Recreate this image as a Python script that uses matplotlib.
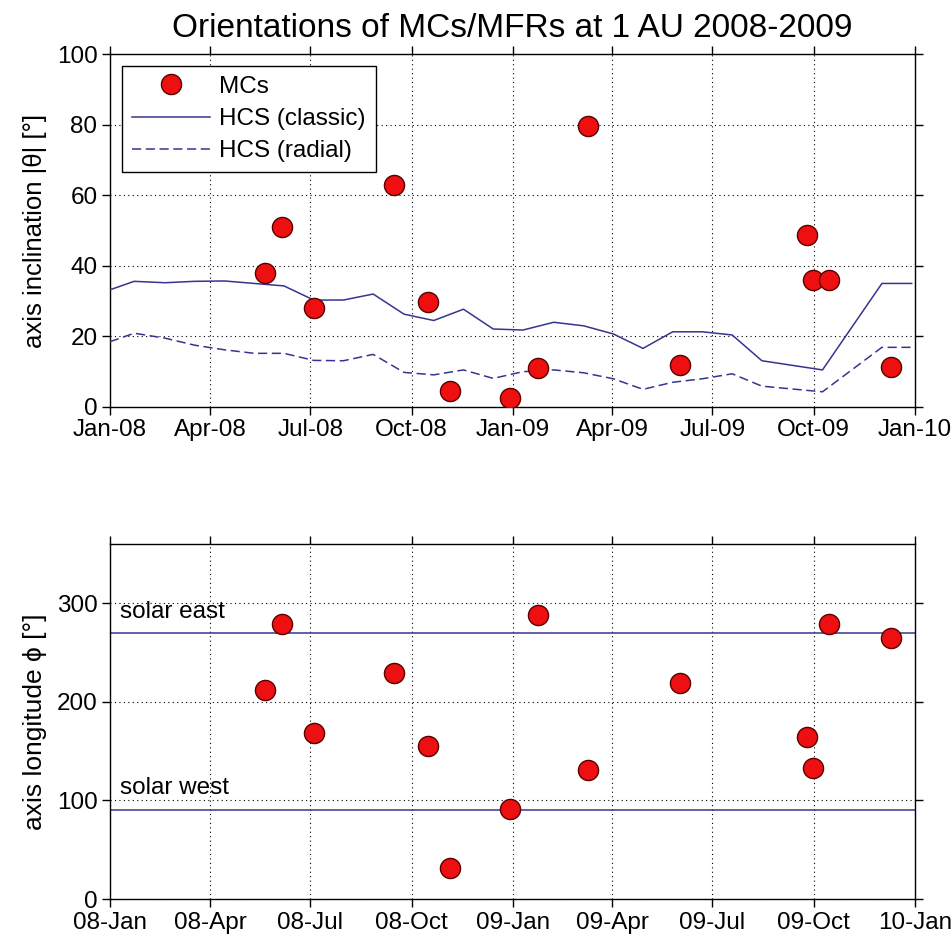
import datetime as dt
import matplotlib
matplotlib.use('Agg')
import matplotlib.pyplot as plt
import matplotlib.dates as mdates

# MC events: date, axis inclination |theta|, axis longitude phi
mc_dates = ['2008-05-21', '2008-06-05', '2008-07-04', '2008-09-15', '2008-10-16',
            '2008-11-05', '2008-12-29', '2009-01-24', '2009-03-10', '2009-06-02',
            '2009-09-25', '2009-09-30', '2009-10-15', '2009-12-10']
mc_theta = [38, 51, 28, 63, 29.7, 4.5, 2.5, 11, 79.5, 12, 48.7, 36, 36, 11.3]
mc_phi = [212, 279, 168, 229, 155, 31, 91, 288, 131, 219, 164, 133, 279, 265]

# HCS inclination per rotation
hcs_dates = ['2008-01-01', '2008-01-23', '2008-02-20', '2008-03-18', '2008-04-14',
             '2008-05-11', '2008-06-07', '2008-07-04', '2008-07-31', '2008-08-27',
             '2008-09-24', '2008-10-21', '2008-11-17', '2008-12-14', '2009-01-10',
             '2009-02-07', '2009-03-06', '2009-04-02', '2009-04-29', '2009-05-26',
             '2009-06-22', '2009-07-19', '2009-08-15', '2009-10-09', '2009-12-02',
             '2009-12-29']
hcs_classic = [33.2, 35.6, 35.2, 35.6, 35.7, 35.0, 34.3, 30.3, 30.3, 32.0,
               26.3, 24.5, 27.7, 22.1, 21.8, 24.0, 23.0, 20.7, 16.6, 21.3,
               21.3, 20.4, 13.1, 10.5, 35.0, 35.0]
hcs_radial = [18.5, 20.9, 19.5, 17.5, 16.2, 15.2, 15.2, 13.2, 13.1, 14.9,
              9.8, 9.1, 10.5, 8.1, 10.0, 10.5, 9.7, 8.0, 5.0, 7.0,
              8.0, 9.4, 5.9, 4.3, 16.9, 16.9]

solar_east = 270
solar_west = 90

def to_dt(lst):
    return [dt.datetime.strptime(s, '%Y-%m-%d') for s in lst]

plt.rcParams['font.family'] = ['Liberation Sans', 'DejaVu Sans']
plt.rcParams['font.size'] = 17.5

line_color = '#35358f'
mc_style = dict(linestyle='none', marker='o', markersize=14.5,
                markerfacecolor='#ee1010', markeredgecolor='#5a0000', markeredgewidth=1.0)
x0 = dt.datetime(2008, 1, 1)
x1 = dt.datetime(2010, 1, 1)

fig = plt.figure(figsize=(9.53, 9.41), dpi=100)
ax1 = fig.add_axes([0.1154, 0.5675, 0.8447, 0.3751])
ax2 = fig.add_axes([0.1154, 0.0446, 0.8447, 0.3773])

def style(ax, fmt):
    ax.set_xlim(x0, x1)
    ax.xaxis.set_major_locator(mdates.MonthLocator(bymonth=[1, 4, 7, 10]))
    ax.xaxis.set_major_formatter(mdates.DateFormatter(fmt))
    ax.grid(True, color='black', linestyle=(0, (1, 3)), linewidth=0.8)
    ax.tick_params(direction='out', length=6, width=1, top=True, right=True,
                   labelsize=17.5, pad=3)
    for s in ax.spines.values():
        s.set_linewidth(1.0)

# top panel
ax1.plot(to_dt(mc_dates), mc_theta, label='MCs', zorder=4, **mc_style)
ax1.plot(to_dt(hcs_dates), hcs_classic, color=line_color, lw=1.1, label='HCS (classic)', zorder=3)
ax1.plot(to_dt(hcs_dates), hcs_radial, color=line_color, lw=1.1, dashes=(6, 3),
         label='HCS (radial)', zorder=3)
ax1.set_ylim(0, 100)
ax1.set_yticks([0, 20, 40, 60, 80, 100])
style(ax1, '%b-%y')
ax1.set_ylabel('axis inclination |\u03b8| [\u00b0]', fontsize=18.5, labelpad=7)
ax1.set_title('Orientations of MCs/MFRs at 1 AU 2008-2009', fontsize=24, pad=12)
leg = ax1.legend(loc='upper left', fancybox=False, framealpha=1, edgecolor='black',
                 handlelength=3.2, handletextpad=0.4, labelspacing=0.42,
                 borderaxespad=0.5, fontsize=17.5)
leg.get_frame().set_linewidth(1.0)

# bottom panel
ax2.axhline(solar_east, color=line_color, lw=1.1, zorder=2)
ax2.axhline(solar_west, color=line_color, lw=1.1, zorder=2)
ax2.plot(to_dt(mc_dates), mc_phi, zorder=4, **mc_style)
ax2.text(dt.datetime(2008, 1, 10), 280, 'solar east', fontsize=17.5, va='bottom')
ax2.text(dt.datetime(2008, 1, 10), 101, 'solar west', fontsize=17.5, va='bottom')
ax2.set_ylim(0, 360)
ax2.set_yticks([0, 100, 200, 300])
style(ax2, '%y-%b')
ax2.set_ylabel('axis longitude \u03d5 [\u00b0]', fontsize=19, labelpad=7)

fig.savefig('out.png', dpi=100)
